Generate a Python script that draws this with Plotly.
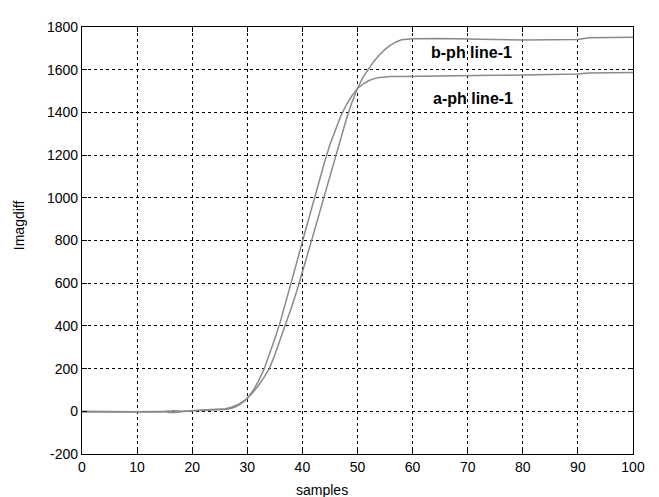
import plotly.graph_objects as go

samples_a = [0, 5, 10, 15, 16, 17, 18, 20, 22, 24, 25, 26, 27, 28, 29, 30, 31, 32, 33, 34, 35, 36, 37, 38, 39,
             40, 41, 42, 43, 44, 45, 46, 47, 48, 49, 50, 51, 52, 53, 54, 55, 56, 58, 60, 65, 70, 75, 80, 85,
             88, 90, 92, 95, 100]
a_ph = [-3, -4, -3, -2, -6, -6, -2, 2, 3, 4, 5, 8, 13, 22, 38, 60, 95, 140, 195, 265, 340, 420, 510, 605, 700,
        795, 890, 982, 1075, 1165, 1250, 1320, 1385, 1437, 1478, 1512, 1533, 1548, 1558, 1564, 1567, 1568,
        1568, 1569, 1570, 1572, 1574, 1575, 1576, 1577, 1580, 1585, 1586, 1587]

samples_b = [0, 5, 10, 15, 16, 17, 18, 20, 22, 24, 25, 26, 27, 28, 29, 30, 31, 32, 33, 34, 35, 36, 37, 38, 39,
             40, 41, 42, 43, 44, 45, 46, 47, 48, 49, 50, 51, 52, 53, 54, 55, 56, 57, 58, 60, 65, 70, 75, 80,
             85, 88, 90, 92, 95, 100]
b_ph = [0, -2, -2, 0, 3, 3, 0, 3, 4, 6, 8, 12, 18, 28, 42, 60, 88, 120, 158, 200, 265, 335, 408, 485, 565,
        650, 740, 830, 920, 1012, 1105, 1195, 1285, 1370, 1447, 1512, 1565, 1605, 1640, 1670, 1695, 1715,
        1730, 1740, 1745, 1746, 1745, 1741, 1739, 1739, 1740, 1742, 1750, 1752, 1752]

x_ticks = [0, 10, 20, 30, 40, 50, 60, 70, 80, 90, 100]
y_ticks = [-200, 0, 200, 400, 600, 800, 1000, 1200, 1400, 1600, 1800]
y_tick_text = ["-200", "0", "200", "400", "600", "800", "1000", "1200", "1400", "1600", "1800"]

line_color = "#8a8a8a"
font_family = "Liberation Sans, Arial, sans-serif"

fig = go.Figure()
fig.add_trace(go.Scatter(x=samples_a, y=a_ph, mode="lines", name="a-ph line-1",
                         line=dict(color=line_color, width=1.5)))
fig.add_trace(go.Scatter(x=samples_b, y=b_ph, mode="lines", name="b-ph line-1",
                         line=dict(color=line_color, width=1.5)))

axis_common = dict(
    showline=True, linecolor="black", linewidth=1.2, mirror="ticks",
    ticks="inside", ticklen=5, tickcolor="black", tickwidth=1,
    showgrid=True, gridcolor="black", gridwidth=1, griddash="3px,3px",
    zeroline=False, tickfont=dict(family=font_family, size=14, color="black"),
)

fig.update_xaxes(range=[0, 100], tickvals=x_ticks, **axis_common)
fig.update_yaxes(range=[-200, 1800], tickvals=y_ticks, ticktext=y_tick_text, **axis_common)

fig.add_annotation(x=70.6, y=1680, text="<b>b-ph line-1</b>", showarrow=False,
                   font=dict(family=font_family, size=16, color="black"))
fig.add_annotation(x=71.0, y=1466, text="<b>a-ph line-1</b>", showarrow=False,
                   font=dict(family=font_family, size=16, color="black"))
fig.add_annotation(xref="paper", yref="paper", x=0.435, y=-0.085, text="samples", showarrow=False,
                   xanchor="center", yanchor="middle",
                   font=dict(family=font_family, size=14, color="black"))
fig.add_annotation(xref="paper", yref="paper", x=-0.115, y=0.535, text="Imagdiff", showarrow=False,
                   textangle=-90, xanchor="center", yanchor="middle",
                   font=dict(family=font_family, size=14, color="black"))

# The page body adds an 8px margin, so the figure is 8px smaller and the margins are shifted
fig.update_layout(
    width=651, height=489, autosize=False,
    margin=dict(l=74, r=26, t=11, b=43),
    paper_bgcolor="white", plot_bgcolor="white",
    showlegend=False,
)

fig.write_html("out.html")
